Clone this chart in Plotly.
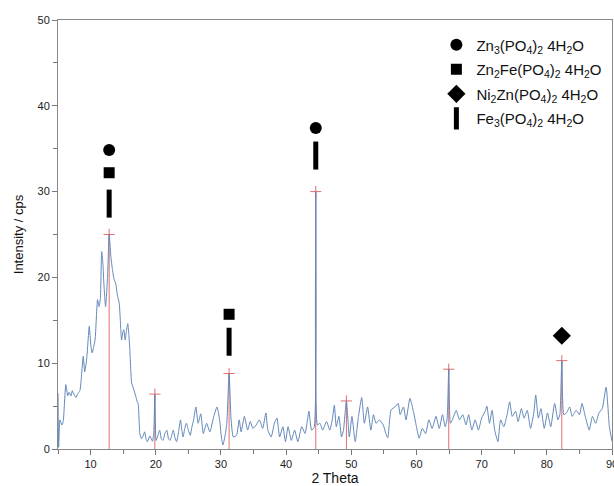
import plotly.graph_objects as go

# ---- diffraction pattern ----
theta = [5.0, 5.1, 5.3, 5.6, 5.8, 6.2, 6.5, 6.7, 7.0, 7.2, 7.5, 7.75, 8.0, 8.36, 8.6, 8.87, 9.1, 9.4, 9.8,
         10.05, 10.25, 10.5, 10.7, 11.07, 11.3, 11.5, 11.7, 11.9, 12.0, 12.3, 12.6, 12.85, 13.1, 13.37, 13.6,
         13.88, 14.1, 14.39, 14.6, 14.75, 14.95, 15.1, 15.3, 15.5, 15.7, 15.85, 16.0, 16.3, 16.6, 16.95, 17.15,
         17.3, 17.56, 17.8, 18.0, 18.3, 18.5, 18.7, 19.1, 19.5, 19.7, 19.86, 20.05, 20.3, 20.6, 20.85, 21.1,
         21.4, 21.7, 21.95, 22.2, 22.45, 22.7, 22.95, 23.2, 23.5, 23.8, 24.0, 24.2, 24.45, 24.7, 25.0, 25.3,
         25.55, 25.8, 26.15, 26.5, 26.9, 27.3, 27.8, 28.3, 28.9, 29.4, 29.8, 30.05, 30.3, 30.6, 30.9, 31.25,
         31.55, 31.9, 32.4, 32.8, 33.1, 33.6, 34.1, 34.5, 34.9, 35.4, 35.9, 36.4, 36.9, 37.2, 37.7, 38.2,
         38.6, 39.0, 39.5, 39.9, 40.3, 40.8, 41.3, 41.8, 42.4, 42.9, 43.2, 43.5, 43.9, 44.3, 44.55, 44.8,
         45.2, 45.6, 46.2, 46.7, 47.1, 47.4, 47.7, 48.1, 48.5, 48.8, 49.25, 49.7, 50.1, 50.6, 51.1, 51.6,
         52.0, 52.5, 53.0, 53.4, 53.8, 54.3, 54.9, 55.3, 55.6, 56.1, 56.7, 57.2, 57.5, 58.0, 58.4, 59.0,
         59.5, 60.0, 60.4, 60.9, 61.4, 61.9, 62.4, 63.0, 63.5, 64.0, 64.4, 64.7, 64.95, 65.2, 65.5, 66.1,
         66.6, 67.1, 67.6, 68.0, 68.5, 69.0, 69.5, 70.0, 70.6, 70.8, 71.2, 71.6, 72.0, 72.5, 72.9, 73.4,
         73.9, 74.3, 74.7, 75.2, 75.6, 76.1, 76.5, 77.0, 77.5, 78.0, 78.3, 78.7, 79.1, 79.6, 80.1, 80.6,
         81.2, 81.7, 82.0, 82.3, 82.6, 83.0, 83.5, 83.9, 84.5, 85.0, 85.4, 85.9, 86.5, 87.0, 87.5, 88.0,
         88.5, 89.1, 89.6, 90.0]
intensity = [6.5, 0.2, 3.4, 2.8, 3.2, 7.5, 6.2, 6.6, 6.2, 6.8, 6.3, 6.0, 6.4, 6.8, 8.5, 10.8, 9.0, 10.5, 14.3,
             12.0, 11.2, 12.0, 12.8, 17.4, 16.6, 17.5, 23.0, 21.5, 19.8, 16.6, 20.0, 25.0, 22.5, 20.8, 19.8,
             19.2, 18.0, 17.0, 14.5, 12.7, 13.6, 13.9, 12.7, 13.8, 14.6, 13.5, 11.9, 7.7, 7.0, 6.1, 5.5,
             5.3, 1.8, 1.2, 1.4, 2.0, 1.2, 0.85, 1.5, 0.9, 2.0, 6.4, 1.0, 1.5, 2.2, 1.2, 1.0,
             1.8, 2.2, 1.2, 1.0, 1.6, 2.2, 1.3, 0.85, 2.0, 3.4, 2.2, 1.4, 2.4, 3.0, 2.2, 1.6,
             2.6, 3.4, 4.9, 3.0, 4.1, 1.8, 3.0, 2.0, 3.8, 4.9, 3.4, 1.5, 0.47, 1.4, 3.0, 8.8,
             3.5, 1.4, 1.6, 3.4, 2.0, 3.8, 2.2, 3.2, 2.4, 2.8, 3.4, 2.4, 4.2, 2.2, 1.4, 3.0,
             3.6, 1.4, 2.6, 0.85, 2.6, 1.0, 2.2, 0.85, 2.6, 1.8, 3.0, 4.4, 2.2, 2.5, 30.0, 2.8,
             3.0, 2.2, 3.2, 2.2, 3.5, 5.1, 2.6, 3.8, 1.4, 2.2, 5.6, 1.4, 3.8, 0.85, 3.8, 6.0,
             3.0, 4.9, 2.2, 4.0, 3.0, 3.4, 2.8, 1.8, 1.3, 4.55, 4.9, 5.3, 4.0, 4.9, 3.4, 5.9,
             4.5, 2.6, 1.25, 2.4, 1.8, 3.4, 2.4, 3.8, 2.4, 4.0, 2.6, 3.5, 9.3, 3.0, 3.4, 4.5,
             3.4, 4.0, 2.8, 4.0, 2.2, 3.4, 2.2, 3.6, 4.5, 5.0, 3.0, 4.5, 2.2, 0.85, 3.4, 2.6,
             4.0, 5.5, 3.8, 4.4, 3.2, 4.7, 3.6, 4.5, 2.4, 4.2, 6.3, 3.6, 4.7, 2.4, 4.2, 2.6,
             5.3, 3.4, 4.0, 10.3, 4.0, 4.2, 4.9, 3.8, 4.5, 4.0, 5.3, 3.8, 2.2, 3.8, 3.0, 4.2,
             4.7, 7.2, 2.6, 0.9]

# ---- identified peak positions / heights (red sticks) ----
peak_pos = [12.85, 19.86, 31.25, 44.55, 49.25, 64.95, 82.3]
peak_int = [25.0, 6.4, 8.8, 30.0, 5.6, 9.3, 10.3]

# ---- phase markers ----
phase_names = ["Zn<sub>3</sub>(PO<sub>4</sub>)<sub>2</sub> 4H<sub>2</sub>O",
               "Zn<sub>2</sub>Fe(PO<sub>4</sub>)<sub>2</sub> 4H<sub>2</sub>O",
               "Ni<sub>2</sub>Zn(PO<sub>4</sub>)<sub>2</sub> 4H<sub>2</sub>O",
               "Fe<sub>3</sub>(PO<sub>4</sub>)<sub>2</sub> 4H<sub>2</sub>O"]
phase_x = [[12.85, 44.55], [12.85, 31.25], [82.3], [12.85, 31.25, 44.55]]
phase_y = [[34.85, 37.4], [32.2, 15.7], [13.2], [28.6, 12.5, 34.2]]
phase_symbols = ["circle", "square", "diamond", "line-ns"]
phase_sizes = [12, 11, 14, 20]

FONT = "Arial, Liberation Sans, sans-serif"

fig = go.Figure()

stick_x, stick_y = [], []
for p, h in zip(peak_pos, peak_int):
    stick_x += [p, p, None]
    stick_y += [0, h, None]
fig.add_trace(go.Scatter(x=stick_x, y=stick_y, mode="lines",
                         line=dict(color="rgb(226,110,110)", width=1),
                         showlegend=False, hoverinfo="skip"))
fig.add_trace(go.Scatter(x=peak_pos, y=peak_int, mode="markers",
                         marker=dict(symbol="cross-thin", size=8,
                                     line=dict(color="rgb(226,110,110)", width=1)),
                         showlegend=False, hoverinfo="skip"))

fig.add_trace(go.Scatter(x=theta, y=intensity, mode="lines",
                         line=dict(color="rgb(98,136,186)", width=1, shape="spline", smoothing=0.5),
                         showlegend=False))

for i, (nm, xs, ys, sym, sz) in enumerate(zip(phase_names, phase_x, phase_y, phase_symbols, phase_sizes)):
    if sym == "line-ns":
        mk = dict(symbol=sym, size=sz, color="black", line=dict(color="black", width=5))
    else:
        mk = dict(symbol=sym, size=sz, color="black", line=dict(width=0))
    fig.add_trace(go.Scatter(x=xs, y=ys, mode="markers", marker=mk, name=nm,
                             legendgroup="g%d" % i))

fig.update_layout(
    width=614, height=486,
    margin=dict(l=58, r=2, t=20, b=37),
    paper_bgcolor="white", plot_bgcolor="white",
    font=dict(family=FONT, color="#222", size=11),
    showlegend=True,
    legend=dict(x=0.683, y=0.980, xanchor="left", yanchor="top",
                font=dict(family=FONT, size=15, color="#111"),
                traceorder="grouped", tracegroupgap=2,
                bgcolor="rgba(0,0,0,0)"),
    xaxis=dict(range=[5, 90], tickvals=[10, 20, 30, 40, 50, 60, 70, 80, 90],
               ticks="outside", ticklen=5, tickcolor="#777", showline=True, linecolor="#888",
               linewidth=1, mirror=True, showgrid=False, zeroline=False,
               ticklabeloverflow="allow",
               minor=dict(dtick=5, ticks="outside", ticklen=4, tickcolor="#777"),
               tickfont=dict(size=11, color="#222"),
               title=dict(text="2 Theta", font=dict(size=14, color="#111"), standoff=4),
               automargin=False),
    yaxis=dict(range=[0, 50], dtick=10, ticks="outside", ticklen=5, tickcolor="#777",
               showline=True, linecolor="#888", linewidth=1, mirror=True, showgrid=False,
               zeroline=False,
               minor=dict(dtick=5, ticks="outside", ticklen=4, tickcolor="#777"),
               tickfont=dict(size=11, color="#222"),
               title=dict(text="Intensity / cps", font=dict(size=13, color="#111"), standoff=10),
               automargin=False),
)

fig.write_html("out.html", config={"displayModeBar": False},
               post_script="document.body.style.margin='0';document.body.style.overflow='hidden';")
